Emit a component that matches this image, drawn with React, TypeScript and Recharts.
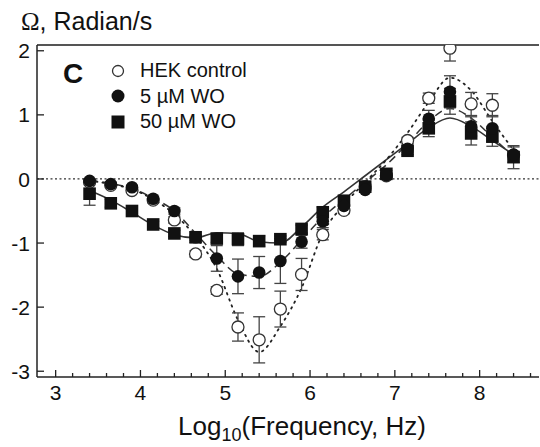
import React from 'react'
import {
  ComposedChart,
  Line,
  Scatter,
  ErrorBar,
  XAxis,
  YAxis,
  ReferenceLine,
} from 'recharts'

// log10 frequency of each measurement
const freqs = [3.4, 3.65, 3.9, 4.15, 4.4, 4.65, 4.9, 5.15, 5.4, 5.65, 5.9, 6.15, 6.4, 6.65, 6.9, 7.15, 7.4, 7.65, 7.9, 8.15, 8.4]

const hekValues = [-0.05, -0.1, -0.18, -0.33, -0.64, -1.17, -1.74, -2.31, -2.51, -2.03, -1.49, -0.87, -0.49, -0.12, 0.05, 0.6, 1.26, 2.04, 1.17, 1.15, 0.37]
// the point at 7.65 runs off the top of the frame, only its lower bar shows
const hekErr: (number | number[])[] = [0, 0, 0.03, 0.04, 0.05, 0.05, 0.06, 0.22, 0.36, 0.28, 0.25, 0.08, 0.05, 0.03, 0.03, 0.05, 0.08, [0.2, 0], 0.18, 0.18, 0.06]

const wo5Values = [-0.03, -0.08, -0.13, -0.31, -0.5, -0.91, -1.24, -1.52, -1.46, -1.28, -0.98, -0.66, -0.42, -0.17, 0.06, 0.47, 0.94, 1.36, 0.82, 0.79, 0.38]
const wo5Err = [0.03, 0.03, 0.03, 0.04, 0.05, 0.08, 0.2, 0.27, 0.25, 0.35, 0.1, 0.1, 0.06, 0.04, 0.04, 0.05, 0.13, 0.25, 0.15, 0.2, 0.12]

const wo50Values = [-0.23, -0.38, -0.5, -0.71, -0.85, -0.91, -0.93, -0.94, -0.97, -0.94, -0.78, -0.52, -0.34, -0.12, 0.08, 0.44, 0.79, 1.21, 0.71, 0.66, 0.34]
const wo50Err = [0.18, 0.06, 0.04, 0.05, 0.05, 0.05, 0.06, 0.1, 0.08, 0.05, 0.06, 0.08, 0.08, 0.05, 0.05, 0.06, 0.13, 0.2, 0.18, 0.15, 0.18]

// fitted curves, read at the same frequencies
const hekFit = [-0.03, -0.08, -0.16, -0.32, -0.55, -0.9, -1.4, -2.2, -2.7, -2.3, -1.7, -0.85, -0.4, -0.05, 0.3, 0.72, 1.2, 1.58, 1.38, 0.9, 0.45]
const wo5Fit = [-0.02, -0.07, -0.15, -0.3, -0.5, -0.85, -1.2, -1.48, -1.52, -1.3, -0.95, -0.6, -0.32, -0.05, 0.22, 0.55, 0.9, 1.1, 0.95, 0.65, 0.35]
const wo50Fit = [-0.18, -0.33, -0.52, -0.72, -0.87, -0.92, -0.84, -0.85, -0.98, -1.0, -0.75, -0.44, -0.2, 0.05, 0.3, 0.55, 0.8, 0.95, 0.82, 0.6, 0.38]

const xTicks = [3, 3.2, 3.4, 3.6, 3.8, 4, 4.2, 4.4, 4.6, 4.8, 5, 5.2, 5.4, 5.6, 5.8, 6, 6.2, 6.4, 6.6, 6.8, 7, 7.2, 7.4, 7.6, 7.8, 8, 8.2, 8.4, 8.6]
const yTicks = [-3, -2, -1, 0, 1, 2]

const X_DOMAIN = [2.78, 8.7]
const Y_DOMAIN = [-3.09, 2.09]

const toPoints = (vals: number[], errs?: (number | number[])[]) =>
  freqs.map((x, i) => ({ x, y: vals[i], err: errs ? errs[i] : 0 }))

const hekData = toPoints(hekValues, hekErr)
const wo5Data = toPoints(wo5Values, wo5Err)
const wo50Data = toPoints(wo50Values, wo50Err)

const FONT = '"Liberation Sans", Arial, sans-serif'
const INK = '#222'
const MARGIN_TOP = 45

const XTick = (props: any) => {
  const { x, y, payload } = props
  const v = payload.value
  const major = Math.abs(v - Math.round(v)) < 1e-6
  return (
    <g>
      <line x1={x} x2={x} y1={y} y2={y - (major ? 7 : 4)} stroke={INK} strokeWidth={1.3} />
      {major && (
        <text x={x} y={y + 23} textAnchor="middle" fontSize={21} fontFamily={FONT} fill="#111">
          {Math.round(v)}
        </text>
      )}
    </g>
  )
}

const YTick = (props: any) => {
  const { x, y, payload } = props
  return (
    <g>
      <line x1={x} x2={x + 7} y1={y} y2={y} stroke={INK} strokeWidth={1.3} />
      <text x={x - 7} y={y} dy="0.36em" textAnchor="end" fontSize={21} fontFamily={FONT} fill="#111">
        {payload.value}
      </text>
    </g>
  )
}

// open circle, cut off by the top of the frame when it pokes above it
const OpenDot = (p: any) => {
  const circle = <circle cx={p.cx} cy={p.cy} r={6} fill="#fff" stroke="#333" strokeWidth={1.3} />
  if (p.cy - 7 >= MARGIN_TOP) return circle
  const id = `open-clip-${p.index}`
  return (
    <g>
      <defs>
        <clipPath id={id}>
          <rect x={p.cx - 10} y={MARGIN_TOP} width={20} height={20} />
        </clipPath>
      </defs>
      <g clipPath={`url(#${id})`}>{circle}</g>
    </g>
  )
}
const FilledDot = (p: any) => <circle cx={p.cx} cy={p.cy} r={6.3} fill="#111" />
const SquareDot = (p: any) => (
  <rect x={p.cx - 6.3} y={p.cy - 6.3} width={12.6} height={12.6} fill="#111" />
)

const XTitle = () => (
  <text x={302} y={435} textAnchor="middle" fontSize={26} fontFamily={FONT} fill="#111">
    Log
    <tspan fontSize={18} dy={6}>10</tspan>
    <tspan dy={-6}>(Frequency, Hz)</tspan>
  </text>
)

export default function App() {
  return (
    <div style={{ position: 'absolute', left: 0, top: 0, width: 540, height: 447, background: '#fff' }}>
      <ComposedChart
        width={540}
        height={447}
        margin={{ top: MARGIN_TOP, right: 1, bottom: 0, left: 0 }}
      >
        <XAxis
          type="number"
          dataKey="x"
          domain={X_DOMAIN}
          allowDataOverflow
          ticks={xTicks}
          interval={0}
          height={70}
          tickSize={0}
          tickMargin={0}
          tickLine={false}
          tick={<XTick />}
          axisLine={{ stroke: INK, strokeWidth: 1.5 }}
          label={<XTitle />}
        />
        <YAxis
          type="number"
          domain={Y_DOMAIN}
          allowDataOverflow
          ticks={yTicks}
          interval={0}
          width={37}
          tickSize={0}
          tickMargin={0}
          tickLine={false}
          tick={<YTick />}
          axisLine={{ stroke: INK, strokeWidth: 1.5 }}
        />
        <ReferenceLine y={0} stroke="#333" strokeWidth={1.2} strokeDasharray="2 2.5" />
        <Line
          data={toPoints(wo50Fit)}
          dataKey="y"
          type="monotone"
          dot={false}
          stroke="#333"
          strokeWidth={1.6}
          isAnimationActive={false}
        />
        <Line
          data={toPoints(wo5Fit)}
          dataKey="y"
          type="monotone"
          dot={false}
          stroke="#333"
          strokeWidth={1.5}
          strokeDasharray="8 5"
          isAnimationActive={false}
        />
        <Line
          data={toPoints(hekFit)}
          dataKey="y"
          type="monotone"
          dot={false}
          stroke="#222"
          strokeWidth={1.8}
          strokeDasharray="1.5 5"
          strokeLinecap="round"
          isAnimationActive={false}
        />
        <Scatter data={hekData} dataKey="y" shape={<OpenDot />} isAnimationActive={false}>
          <ErrorBar dataKey="err" direction="y" width={6} stroke="#444" strokeWidth={1.3} />
        </Scatter>
        <Scatter data={wo50Data} dataKey="y" shape={<SquareDot />} isAnimationActive={false}>
          <ErrorBar dataKey="err" direction="y" width={6} stroke="#444" strokeWidth={1.3} />
        </Scatter>
        <Scatter data={wo5Data} dataKey="y" shape={<FilledDot />} isAnimationActive={false}>
          <ErrorBar dataKey="err" direction="y" width={6} stroke="#444" strokeWidth={1.3} />
        </Scatter>
        <ReferenceLine y={Y_DOMAIN[1]} ifOverflow="visible" stroke="#555" strokeWidth={2} />
      </ComposedChart>

      <div style={{ position: 'absolute', left: 21, top: 7, fontFamily: FONT, fontSize: 25, color: '#111', whiteSpace: 'nowrap' }}>
        <span style={{ fontFamily: '"Liberation Serif", serif' }}>Ω</span>, Radian/s
      </div>
      <div style={{ position: 'absolute', left: 63, top: 58, fontFamily: FONT, fontSize: 28, fontWeight: 'bold', color: '#111' }}>
        C
      </div>
      <div style={{ position: 'absolute', left: 110, top: 58, fontFamily: FONT, fontSize: 20, color: '#111', lineHeight: '25.5px' }}>
        <div style={{ display: 'flex', alignItems: 'center' }}>
          <svg width={18} height={18} style={{ marginRight: 12 }}>
            <circle cx={8} cy={9} r={5.5} fill="#fff" stroke="#333" strokeWidth={1.3} />
          </svg>
          HEK control
        </div>
        <div style={{ display: 'flex', alignItems: 'center' }}>
          <svg width={18} height={18} style={{ marginRight: 12 }}>
            <circle cx={8} cy={9} r={6.5} fill="#111" />
          </svg>
          5 µM WO
        </div>
        <div style={{ display: 'flex', alignItems: 'center' }}>
          <svg width={18} height={18} style={{ marginRight: 12 }}>
            <rect x={1.5} y={2.5} width={13} height={13} fill="#111" />
          </svg>
          50 µM WO
        </div>
      </div>
    </div>
  )
}
